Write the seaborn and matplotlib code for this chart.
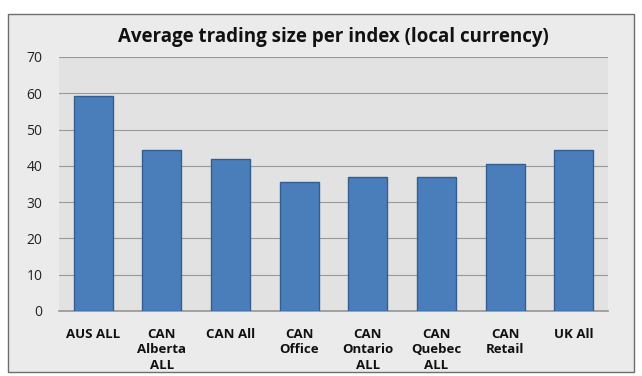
import matplotlib
matplotlib.use("Agg")
import matplotlib.pyplot as plt
import seaborn as sns
import pandas as pd
from matplotlib.patches import Rectangle

categories = ["AUS ALL", "CAN\nAlberta\nALL", "CAN All", "CAN\nOffice", "CAN\nOntario\nALL",
              "CAN\nQuebec\nALL", "CAN\nRetail", "UK All"]
values = [59.2, 44.3, 42.0, 35.5, 37.0, 37.0, 40.5, 44.5]
yticks = [0, 10, 20, 30, 40, 50, 60, 70]
title = "Average trading size per index (local currency)"

sns.set_theme(style="whitegrid")
plt.rcParams['font.family'] = ['Open Sans', 'DejaVu Sans']

fig = plt.figure(figsize=(6.42, 3.76), dpi=100)
fig.patch.set_facecolor("white")
# outer chart frame
frame = Rectangle((8/642, 1-372/376), (634-8)/642, (372-14)/376, transform=fig.transFigure,
                  facecolor="#ebebeb", edgecolor="#6e6e6e", linewidth=1.0, zorder=-10)
fig.patches.append(frame)

ax = fig.add_axes([59/642, 1-311/376, (608-59)/642, (311-57)/376])
df = pd.DataFrame({"cat": categories, "val": values})
sns.barplot(data=df, x="cat", y="val", ax=ax, color="#4a7ebb", width=0.57,
            saturation=1, edgecolor="#355e90", linewidth=1.0, zorder=3)
ax.set_facecolor("#e2e2e2")
ax.set_ylim(0, 70)
ax.set_yticks(yticks)
ax.set_xlabel("")
ax.set_ylabel("")
ax.grid(axis="y", color="#999999", linewidth=0.8)
ax.grid(axis="x", visible=False)
for s in ["top", "right", "left"]:
    ax.spines[s].set_visible(False)
ax.spines["bottom"].set_visible(True)
ax.spines["bottom"].set_color("#999999")
ax.tick_params(axis="y", labelsize=10, colors="#222222", length=0, pad=12)
ax.tick_params(axis="x", labelsize=9.5, colors="#111111", length=0, pad=12)
for lbl in ax.get_xticklabels():
    lbl.set_fontweight("bold")
    lbl.set_linespacing(1.25)
ax.set_title(title, fontsize=13.5, fontweight="bold", color="#111111", pad=11)
fig.savefig("out.png", dpi=100, facecolor=fig.get_facecolor())
